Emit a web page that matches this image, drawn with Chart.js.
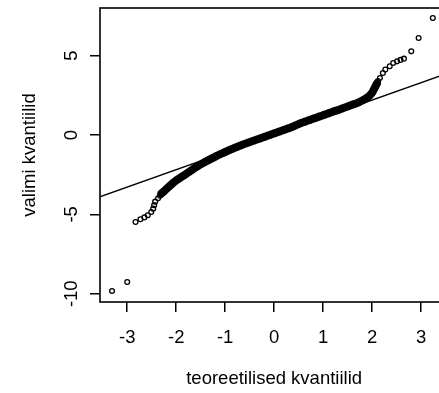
<!DOCTYPE html>
<html>
<head>
<meta charset="utf-8">
<script src="https://cdn.jsdelivr.net/npm/chart.js@4"></script>
<style>
  html, body { margin: 0; padding: 0; background: #fff; overflow: hidden; }
  canvas { display: block; }
</style>
</head>
<body>
<canvas id="myChart" width="452" height="393"></canvas>
<script>
// axis ticks
const xTicks = [-3, -2, -1, 0, 1, 2, 3];
const yTicks = [-10, -5, 0, 5];

// lower tail (teoreetilised, valimi)
const lowX = [-3.31, -3.00, -2.83, -2.73, -2.65, -2.58, -2.51, -2.47, -2.45, -2.43, -2.37, -2.33];
const lowY = [-9.83, -9.26, -5.48, -5.31, -5.19, -5.06, -4.85, -4.64, -4.42, -4.20, -3.99, -3.82];

// dense middle part
const midX = [-2.30, -2.25, -2.20, -2.15, -2.10, -2.05, -2.00, -1.95, -1.90, -1.85,
  -1.80, -1.75, -1.70, -1.65, -1.60, -1.55, -1.50, -1.45, -1.40, -1.35,
  -1.30, -1.25, -1.20, -1.15, -1.10, -1.05, -1.00, -0.95, -0.90, -0.85,
  -0.80, -0.75, -0.70, -0.65, -0.60, -0.55, -0.50, -0.45, -0.40, -0.35,
  -0.30, -0.25, -0.20, -0.15, -0.10, -0.05, 0.00, 0.05, 0.10, 0.15,
  0.20, 0.25, 0.30, 0.35, 0.40, 0.45, 0.50, 0.55, 0.60, 0.65,
  0.70, 0.75, 0.80, 0.85, 0.90, 0.95, 1.00, 1.05, 1.10, 1.15,
  1.20, 1.25, 1.30, 1.35, 1.40, 1.45, 1.50, 1.55, 1.60, 1.65,
  1.70, 1.75, 1.80, 1.85, 1.90, 1.95, 2.00, 2.05, 2.10];
const midY = [-3.68, -3.55, -3.40, -3.26, -3.12, -2.98, -2.86, -2.76, -2.66, -2.56,
  -2.46, -2.35, -2.25, -2.14, -2.04, -1.94, -1.85, -1.76, -1.68, -1.60,
  -1.52, -1.44, -1.36, -1.28, -1.21, -1.14, -1.07, -1.00, -0.93, -0.87,
  -0.80, -0.74, -0.68, -0.62, -0.56, -0.50, -0.45, -0.39, -0.34, -0.28,
  -0.23, -0.17, -0.12, -0.06, -0.01, 0.05, 0.10, 0.16, 0.21, 0.27,
  0.32, 0.38, 0.43, 0.49, 0.55, 0.62, 0.69, 0.75, 0.81, 0.86,
  0.92, 0.97, 1.03, 1.08, 1.14, 1.19, 1.25, 1.30, 1.36, 1.41,
  1.47, 1.52, 1.57, 1.62, 1.68, 1.74, 1.80, 1.86, 1.91, 1.96,
  2.02, 2.09, 2.17, 2.26, 2.36, 2.48, 2.66, 2.95, 3.25];

// upper tail
const highX = [2.12, 2.16, 2.22, 2.27, 2.36, 2.43, 2.51, 2.58, 2.65, 2.80, 2.95, 3.24];
const highY = [3.40, 3.59, 3.91, 4.12, 4.33, 4.54, 4.64, 4.73, 4.81, 5.27, 6.11, 7.37];

// qqline end points
const lineX = [-3.6, 3.6];
const lineY = [-3.94, 3.95];

const toPoints = (xs, ys) => xs.map((x, i) => ({ x: x, y: ys[i] }));

const font = { family: "'Liberation Sans', Arial, sans-serif", size: 18.5 };
Chart.defaults.color = '#000';
Chart.defaults.font = font;

// R style box round the plot area
const boxPlugin = {
    id: 'box',
    afterDraw(chart) {
        const a = chart.chartArea;
        const ctx = chart.ctx;
        ctx.save();
        ctx.strokeStyle = '#000';
        ctx.lineWidth = 1.6;
        ctx.strokeRect(a.left, a.top, a.right - a.left, a.bottom - a.top);
        ctx.restore();
    }
};

const circle = {
    pointStyle: 'circle',
    pointRadius: 2.4,
    pointBorderWidth: 1.3,
    pointBorderColor: '#000',
    pointBackgroundColor: 'rgba(0,0,0,0)',
    pointHoverRadius: 2.4
};

const ctx = document.getElementById('myChart');

new Chart(ctx, {
    type: 'scatter',
    data: {
        datasets: [
            {
                data: toPoints(lineX, lineY),
                showLine: true,
                borderColor: '#000',
                borderWidth: 1.3,
                pointRadius: 0
            },
            Object.assign({ data: toPoints(lowX, lowY) }, circle),
            Object.assign({
                data: toPoints(midX, midY),
                showLine: true,
                borderColor: '#000',
                borderWidth: 8,
                borderCapStyle: 'round',
                borderJoinStyle: 'round'
            }, circle),
            Object.assign({ data: toPoints(highX, highY) }, circle)
        ]
    },
    options: {
        responsive: false,
        animation: false,
        devicePixelRatio: 1,
        layout: { padding: { left: 0, right: 1, top: 8, bottom: 0 } },
        plugins: { legend: { display: false }, tooltip: { enabled: false } },
        scales: {
            x: {
                type: 'linear',
                min: -3.556,
                max: 3.556,
                afterBuildTicks: s => { s.ticks = xTicks.map(v => ({ value: v })); },
                afterFit: s => { s.height = 91; s.paddingLeft = 0; s.paddingRight = 0; },
                border: { display: false },
                grid: {
                    drawOnChartArea: false,
                    drawTicks: true,
                    tickLength: 10,
                    color: '#000',
                    lineWidth: 1.5
                },
                ticks: { padding: 15, maxRotation: 0, color: '#000', font: font },
                title: {
                    display: true,
                    text: 'teoreetilised kvantiilid',
                    color: '#000',
                    font: font,
                    padding: { top: 0, bottom: 3 }
                }
            },
            y: {
                type: 'linear',
                min: -10.52,
                max: 8.0,
                afterBuildTicks: s => { s.ticks = yTicks.map(v => ({ value: v })); },
                afterFit: s => { s.width = 100; s.paddingTop = 0; s.paddingBottom = 0; },
                border: { display: false },
                grid: {
                    drawOnChartArea: false,
                    drawTicks: true,
                    tickLength: 10,
                    color: '#000',
                    lineWidth: 1.5
                },
                ticks: {
                    padding: 5,
                    minRotation: 90,
                    maxRotation: 90,
                    crossAlign: 'center',
                    color: '#000',
                    font: font
                },
                title: {
                    display: true,
                    text: 'valimi kvantiilid',
                    color: '#000',
                    font: font,
                    padding: { top: 19, bottom: 0 }
                }
            }
        }
    },
    plugins: [boxPlugin]
});
</script>
</body>
</html>
